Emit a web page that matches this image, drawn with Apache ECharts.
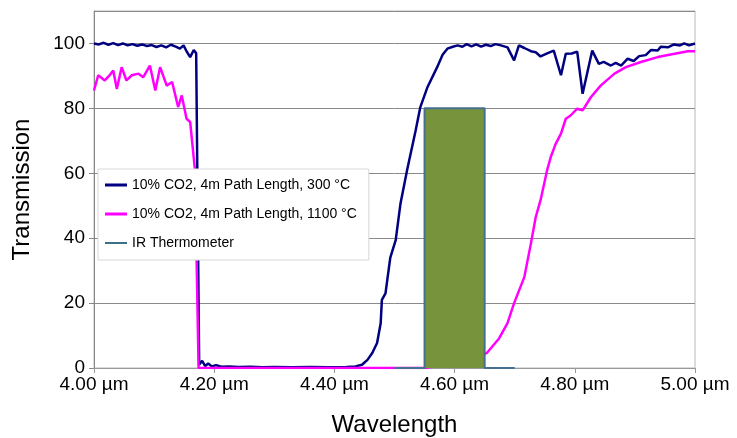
<!DOCTYPE html>
<html>
<head>
<meta charset="utf-8">
<script src="https://cdn.jsdelivr.net/npm/echarts@6/dist/echarts.min.js"></script>
<style>
    html, body { margin: 0; padding: 0; background: #fff; }
    #chart { width: 737px; height: 438px; }
</style>
</head>
<body>
<div id="chart"></div>
<script>
// 300 °C curve
const blueX = [4.000, 4.008, 4.016, 4.024, 4.032, 4.040, 4.048, 4.056, 4.064, 4.072, 4.080, 4.088, 4.096, 4.104, 4.112, 4.120, 4.128, 4.136, 4.143, 4.149, 4.154, 4.160, 4.166, 4.170, 4.175, 4.180, 4.185, 4.190, 4.196, 4.203, 4.212, 4.225, 4.240, 4.260, 4.280, 4.300, 4.330, 4.360, 4.390, 4.420, 4.435, 4.446, 4.455, 4.463, 4.471, 4.477, 4.479, 4.485, 4.493, 4.502, 4.510, 4.521, 4.535, 4.543, 4.555, 4.571, 4.580, 4.588, 4.597, 4.605, 4.613, 4.620, 4.628, 4.636, 4.644, 4.652, 4.660, 4.668, 4.677, 4.688, 4.699, 4.707, 4.716, 4.727, 4.735, 4.743, 4.755, 4.765, 4.777, 4.785, 4.795, 4.804, 4.813, 4.829, 4.840, 4.848, 4.860, 4.868, 4.877, 4.888, 4.898, 4.907, 4.918, 4.927, 4.938, 4.943, 4.955, 4.965, 4.975, 4.982, 4.990, 5.000]
const blueY = [100, 99.7, 100.2, 99.6, 100.1, 99.5, 100, 99.4, 99.8, 99.3, 99.7, 99.2, 99.5, 98.9, 99.4, 98.8, 99.6, 99.0, 98.4, 99.4, 97.6, 95.8, 98.0, 97.0, 1.0, 2.2, 0.6, 1.4, 0.5, 0.9, 0.4, 0.5, 0.3, 0.4, 0.2, 0.3, 0.2, 0.3, 0.2, 0.3, 0.5, 1.0, 2.5, 4.6, 7.7, 13.8, 21.0, 23.0, 34.0, 39.4, 50.7, 61.0, 73.0, 80.4, 86.6, 92.7, 96.5, 98.4, 99.0, 99.4, 99.0, 99.8, 99.1, 99.7, 99.0, 99.6, 99.2, 99.8, 99.4, 98.8, 94.8, 99.4, 98.6, 97.6, 97.3, 96.0, 97.0, 97.8, 90.2, 96.8, 96.9, 97.5, 84.5, 97.8, 93.7, 94.3, 93.2, 94.0, 93.2, 95.3, 94.6, 96.1, 96.4, 98.0, 97.8, 99.0, 98.8, 99.7, 99.4, 100, 99.4, 100]

// 1100 °C curve
const pinkX = [4.000, 4.007, 4.018, 4.025, 4.032, 4.038, 4.046, 4.054, 4.063, 4.074, 4.082, 4.093, 4.102, 4.110, 4.121, 4.130, 4.140, 4.146, 4.154, 4.160, 4.168, 4.174, 4.300, 4.500, 4.550, 4.600, 4.640, 4.654, 4.674, 4.688, 4.699, 4.716, 4.727, 4.735, 4.743, 4.754, 4.760, 4.768, 4.777, 4.785, 4.793, 4.804, 4.813, 4.827, 4.843, 4.866, 4.885, 4.910, 4.938, 4.966, 4.988, 5.000]
const pinkY = [85.5, 90.2, 88.6, 90.0, 91.7, 86.0, 92.7, 88.6, 90.2, 90.7, 89.6, 93.2, 85.5, 92.7, 87.0, 88.1, 80.4, 84.0, 76.8, 75.8, 61.0, 0, 0, 0, 0, 1.5, 3.6, 4.7, 9.1, 13.8, 20.0, 28.0, 38.4, 46.5, 51.7, 61.0, 65.0, 69.0, 72.2, 76.8, 77.8, 79.9, 79.4, 83.5, 87.0, 90.7, 92.7, 94.3, 95.8, 96.8, 97.6, 97.6]

// IR thermometer band
const irX = [4.50, 4.55, 4.55, 4.65, 4.65, 4.70]
const irY = [0, 0, 80, 80, 0, 0]

const names = ["10% CO2, 4m Path Length, 300 °C", "10% CO2, 4m Path Length, 1100 °C", "IR Thermometer"]

const pairs = (xs, ys) => xs.map((x, i) => [x, ys[i]])
const font = "Liberation Sans, Arial, sans-serif"

let myChart = echarts.init(document.getElementById("chart"))
myChart.setOption({
    animation: false,
    textStyle: { fontFamily: font },
    grid: {
        left: 94,
        right: 42,
        top: 11,
        bottom: 70,
        outerBoundsMode: "none",
        show: true,
        borderColor: "#b8b8b8",
        borderWidth: 1
    },
    legend: {
        orient: "vertical",
        left: 98,
        top: 169,
        padding: [9, 12, 10, 7],
        itemGap: 15,
        itemWidth: 22,
        itemHeight: 14,
        backgroundColor: "#fff",
        borderColor: "#d8d8d8",
        borderWidth: 1,
        textStyle: { fontSize: 14, color: "#000", fontFamily: font },
        data: [
            { name: names[0], icon: "path://M0,0H22V3H0Z", itemStyle: { color: "#000080" } },
            { name: names[1], icon: "path://M0,0H22V3H0Z", itemStyle: { color: "#ff00ff" } },
            { name: names[2], icon: "path://M0,0H22V2H0Z", itemStyle: { color: "#3d6f85" } }
        ]
    },
    xAxis: {
        type: "value",
        min: 4,
        max: 5,
        interval: 0.2,
        name: "Wavelength",
        nameLocation: "middle",
        nameGap: 45,
        nameTextStyle: { fontSize: 24, color: "#000", fontFamily: font },
        axisLine: { lineStyle: { color: "#999" } },
        axisTick: { show: true, length: 5, lineStyle: { color: "#999" } },
        axisLabel: {
            fontSize: 19,
            color: "#000",
            margin: 7,
            formatter: v => v.toFixed(2) + " µm"
        },
        splitLine: { show: false }
    },
    yAxis: {
        type: "value",
        min: 0,
        max: 110,
        interval: 20,
        name: "Transmission",
        nameLocation: "middle",
        nameGap: 60,
        nameTextStyle: { fontSize: 24, color: "#000", fontFamily: font },
        axisLine: { show: true, lineStyle: { color: "#888" } },
        axisTick: { show: true, length: 5, lineStyle: { color: "#888" } },
        axisLabel: { fontSize: 19, color: "#000", margin: 9, showMaxLabel: false },
        splitLine: { show: true, lineStyle: { color: "#8a8a8a" } }
    },
    series: [
        {
            name: names[0],
            type: "line",
            data: pairs(blueX, blueY),
            symbol: "none",
            z: 2,
            lineStyle: { color: "#000080", width: 2.5 },
            itemStyle: { color: "#000080" }
        },
        {
            name: names[1],
            type: "line",
            data: pairs(pinkX, pinkY),
            symbol: "none",
            z: 3,
            lineStyle: { color: "#ff00ff", width: 2.5 },
            itemStyle: { color: "#ff00ff" }
        },
        {
            name: names[2],
            type: "line",
            data: pairs(irX, irY),
            symbol: "none",
            z: 4,
            lineStyle: { color: "#46708f", width: 2 },
            itemStyle: { color: "#46708f" },
            areaStyle: { color: "#77933c", opacity: 1 }
        }
    ]
})
</script>
</body>
</html>
